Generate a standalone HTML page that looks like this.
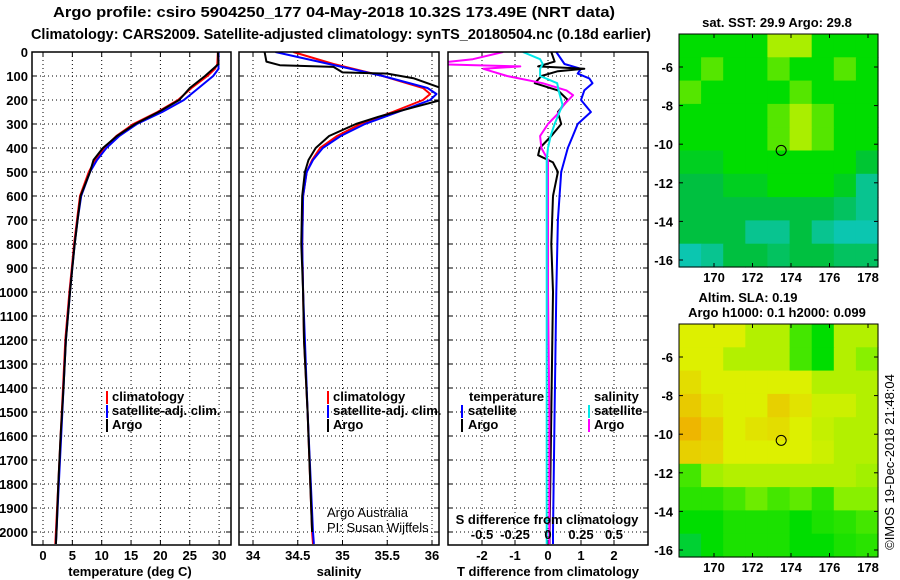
<!DOCTYPE html>
<html><head><meta charset="utf-8"><style>
html,body{margin:0;padding:0;background:#fff;}
svg{display:block;font-family:"Liberation Sans",Arial,sans-serif;font-weight:bold;}
</style></head><body>
<svg id="c" width="900" height="580" viewBox="0 0 900 580" xmlns="http://www.w3.org/2000/svg">
<text x="334" y="17" text-anchor="middle" font-size="15" textLength="562" lengthAdjust="spacingAndGlyphs">Argo profile: csiro 5904250_177 04-May-2018 10.32S 173.49E (NRT data)</text>
<text x="341" y="39" text-anchor="middle" font-size="15" textLength="620" lengthAdjust="spacingAndGlyphs">Climatology: CARS2009. Satellite-adjusted climatology: synTS_20180504.nc (0.18d earlier)</text>
</svg>
<script>
// ---- data ----
const tDepth = [0,50,70,100,150,200,250,300,350,400,450,500,600,700,800,900,1000,1200,1400,1600,1800,2000,2050];
const tClim  = [29.8,29.7,29.3,28.0,25.3,23.0,19.5,15.4,12.5,10.4,8.9,7.8,6.3,5.8,5.3,4.9,4.5,3.8,3.4,3.0,2.6,2.2,2.1];
const tSat   = [29.9,29.9,29.9,29.0,26.5,24.0,20.3,16.0,13.0,10.8,9.2,8.0,6.5,5.9,5.4,5.0,4.6,3.9,3.5,3.1,2.7,2.3,2.2];
const tArgo  = [29.8,29.9,29.0,27.6,25.0,23.2,19.7,15.7,12.6,10.2,8.6,8.0,6.4,5.9,5.4,5.0,4.6,3.9,3.5,3.0,2.6,2.3,2.2];
const sDepth = [0,50,100,150,175,200,250,300,350,400,450,500,600,800,1000,1200,1500,2000,2050];
const sClim  = [34.45,34.9,35.45,35.9,35.98,35.9,35.56,35.2,34.94,34.75,34.66,34.6,34.56,34.55,34.56,34.57,34.61,34.66,34.67];
const sSat   = [34.25,34.85,35.45,35.95,36.05,35.98,35.62,35.25,34.98,34.78,34.67,34.6,34.56,34.55,34.56,34.58,34.61,34.67,34.68];
const aDepth = [0,40,55,62,85,90,110,150,200,230,270,300,350,400,450,500,600,800,1000,1200,1500,2000];
const sArgo  = [34.13,34.15,34.3,34.9,35.0,35.5,35.8,36.1,36.1,35.8,35.4,35.15,34.85,34.7,34.62,34.58,34.55,34.54,34.56,34.57,34.61,34.66];
const dTDepth = [0,50,70,90,110,130,160,200,250,300,350,400,500,700,1000,1500,2000,2050];
const dTSat   = [0.25,0.5,1.0,0.9,1.25,1.35,1.1,1.0,1.3,0.9,0.75,0.6,0.4,0.3,0.25,0.2,0.15,0.15];
const dADepth = [0,40,60,70,80,100,130,160,200,250,300,350,400,430,460,500,600,800,1000,1500,2000,2050];
const dTArgo  = [0.1,0.2,-0.3,1.1,0.3,-0.2,-0.4,0.3,0.6,0.3,0.4,0.1,-0.25,-0.3,0.15,0.3,0.15,0.1,0.15,0.1,0.05,0.05];
const dSDepth = [0,30,50,60,70,100,130,160,180,220,260,300,350,400,450,500,1000,1500,2000,2050];
const dSArgo  = [-0.34,-0.57,-0.9,-0.21,-0.49,-0.31,-0.04,0.14,0.19,0.12,0.07,0.0,-0.06,-0.05,0.0,0.0,0.0,0.01,0.01,0.01];
const dSSat   = [-0.19,-0.06,-0.04,-0.05,-0.06,-0.06,0.07,0.08,0.09,0.11,0.08,0.05,0.02,0.0,-0.01,-0.01,-0.01,-0.01,-0.01,-0.01];
const depthTicks = [0,100,200,300,400,500,600,700,800,900,1000,1100,1200,1300,1400,1500,1600,1700,1800,1900,2000];
const tTicks = [0,5,10,15,20,25,30];
const sTicks = [34,34.5,35,35.5,36];
const dTTicks = [-2,-1,0,1,2];
const dSTicks = [-0.5,-0.25,0,0.25,0.5];
const lonTicks = [170,172,174,176,178];
const latTicks = [-6,-8,-10,-12,-14,-16];
const sstGrid = [
[2,2,2,2,3,3,2,2,2],[2,2.5,2,2,2.5,2,2,2.5,2],[2.5,2,2,2,2,2.5,2,2,2],[2,2,2,2,2.5,3,2.5,2,2],
[2,2,2,2,2.5,3,2.5,2,2],[1.5,1.5,2,2,2,2,2,2,1.2],[1,1,1.5,1.5,2,2,2,1.5,0.5],
[1,1,1,1,1,1,1,0.8,0.5],[1,1,1,0.5,0.5,1,0.5,0.3,0.3],[0.3,0.5,1,1,0.8,1,1,0.8,0.8]];
const slaGrid = [
[3,3,3,2.5,2.5,1.5,1,2.5,2.5],[3,3,2.5,2.5,2.5,1.5,1,2.5,2],[3.3,3,3,3,3,3,2.5,2.5,2.5],
[3.6,3.2,3,3,3.5,3.2,2.8,2.8,2.5],[3.9,3.5,3,3.2,3.3,3,2.7,2.5,2.5],[3.5,3.4,3,3,3,3,2.8,2.5,2.5],
[1.5,2.3,2.5,2.5,2.5,2.5,2.5,2.5,2.3],[1.3,1.3,1.5,1.8,1.5,1.7,1.3,2,2],[1,1,1.2,1.2,1.2,1,1.2,1.3,1.5],[0.6,1,1.2,1.2,1.2,1,1,1.2,1.3]];
const argoPos = [173.49,-10.32];

const NS='http://www.w3.org/2000/svg';
const svg=document.getElementById('c');
function mk(tag,at,parent){const e=document.createElementNS(NS,tag);for(const k in at)e.setAttribute(k,at[k]);(parent||svg).appendChild(e);return e;}
function txt(x,y,s,size,anchor,parent){const e=mk('text',{x:x,y:y,'font-size':size,'text-anchor':anchor||'middle'},parent);e.textContent=s;return e;}

const TOP=52, BOT=545, FS=13;
const yD=d=>TOP+d*0.24;
const panels=[{l:32,r:231,name:'temperature'},{l:239,r:439,name:'salinity'},{l:448,r:648,name:'difference'}];
const xT=v=>43+v*5.87, xS=v=>253+(v-34)*89.5, xDT=v=>548+v*33, xDS=v=>548+v*132;

panels.forEach((p,i)=>{
  const g=mk('g',{});
  
  
  const xs = i==0?tTicks.map(xT):i==1?sTicks.map(xS):dTTicks.map(xDT);
  depthTicks.forEach(d=>{const y=yD(d);
    const l=mk('line',{x1:p.l,x2:p.r,y1:y,y2:y,stroke:'#000','stroke-width':1,'stroke-dasharray':'1,3'},g);
    
    mk('line',{x1:p.l,x2:p.l+5,y1:y,y2:y,stroke:'#000'},g);mk('line',{x1:p.r-5,x2:p.r,y1:y,y2:y,stroke:'#000'},g);
  });
  xs.forEach(x=>{
    const l=mk('line',{x1:x,x2:x,y1:TOP,y2:BOT,stroke:'#000','stroke-dasharray':'1,3'},g);
    
    mk('line',{x1:x,x2:x,y1:BOT-5,y2:BOT,stroke:'#000'},g);mk('line',{x1:x,x2:x,y1:TOP,y2:TOP+5,stroke:'#000'},g);
  });
  mk('defs',{},g).innerHTML='<clipPath id="cp'+i+'"><rect x="'+p.l+'" y="'+TOP+'" width="'+(p.r-p.l)+'" height="'+(BOT-TOP)+'"/></clipPath>';
  p.g=mk('g',{'clip-path':'url(#cp'+i+')'},g);
  const fr=mk('rect',{x:p.l,y:TOP,width:p.r-p.l,height:BOT-TOP,fill:'none',stroke:'#000','stroke-width':1.5},g);
  
});
depthTicks.forEach(d=>{const t=txt(28,yD(d)+5,String(d),FS,'end');});
tTicks.forEach(v=>{const t=txt(xT(v),560,String(v),FS);});
sTicks.forEach(v=>{const t=txt(xS(v),560,String(v),FS);});
dTTicks.forEach(v=>{const t=txt(xDT(v),560,String(v),FS);});
dSTicks.forEach(v=>{const t=txt(xDS(v),539,String(v),FS);});
[[130,'temperature (deg C)','temperature-axis-title'],[339,'salinity','salinity-axis-title'],[548,'T difference from climatology','t-diff-axis-title']].forEach(a=>{const t=txt(a[0],576,a[1],FS);});
{const t=txt(547,524,'S difference from climatology',FS);}

function line(par,xs,ds,fx,color,w,name){
  const pts=xs.map((v,i)=>fx(v).toFixed(1)+','+yD(ds[i]).toFixed(1)).join(' ');
  const e=mk('polyline',{points:pts,fill:'none',stroke:color,'stroke-width':w,'stroke-linejoin':'round'},par);
  
}
line(panels[0].g,tClim,tDepth,xT,'#ff0000',2,'temperature-climatology-line');
line(panels[0].g,tSat,tDepth,xT,'#0000ff',2,'temperature-satellite-line');
line(panels[0].g,tArgo,tDepth,xT,'#000000',2,'temperature-argo-line');
line(panels[1].g,sClim,sDepth,xS,'#ff0000',2,'salinity-climatology-line');
line(panels[1].g,sSat,sDepth,xS,'#0000ff',2,'salinity-satellite-line');
line(panels[1].g,sArgo,aDepth,xS,'#000000',2,'salinity-argo-line');
line(panels[2].g,dTSat,dTDepth,xDT,'#0000ff',2,'t-diff-satellite-line');
line(panels[2].g,dTArgo,dADepth,xDT,'#000000',2,'t-diff-argo-line');
line(panels[2].g,dSArgo,dSDepth,xDS,'#ff00ff',2,'s-diff-argo-line');
line(panels[2].g,dSSat,dSDepth,xDS,'#00e8e8',2,'s-diff-satellite-line');

function leg(bx,tx,y,color,label,name){
  const g=mk('g',{});
  mk('rect',{x:bx,y:y-10,width:2,height:13,fill:color},g);txt(tx,y,label,FS,'start',g);
}
leg(106,112,401,'#ff0000','climatology','legend-climatology');
leg(106,112,415,'#0000ff','satellite-adj. clim.','legend-satellite-adj');
leg(106,112,429,'#000000','Argo','legend-argo');
leg(327,333,401,'#ff0000','climatology','legend-sal-climatology');
leg(327,333,415,'#0000ff','satellite-adj. clim.','legend-sal-satellite-adj');
leg(327,333,429,'#000000','Argo','legend-sal-argo');
{const t=txt(469,401,'temperature',FS,'start');}
{const t=txt(594,401,'salinity',FS,'start');}
leg(461,468,415,'#0000ff','satellite','legend-tdiff-satellite');
leg(461,468,429,'#000000','Argo','legend-tdiff-argo');
leg(588,594,415,'#00e8e8','satellite','legend-sdiff-satellite');
leg(588,594,429,'#ff00ff','Argo','legend-sdiff-argo');
{const g=mk('g',{'font-weight':'normal'});
 txt(327,517,'Argo Australia',FS,'start',g);txt(327,532,'PI: Susan Wijffels',FS,'start',g);}

// ---- maps ----
function lerpC(stops,v){v=Math.max(0,Math.min(stops.length-1,v));const i=Math.min(stops.length-2,Math.floor(v)),f=v-i;
  const a=stops[i],b=stops[i+1];return 'rgb('+a.map((c,k)=>Math.round(c+(b[k]-c)*f)).join(',')+')';}
const sstStops=[[16,200,224],[0,192,64],[0,221,0],[170,238,0]];
const slaStops=[[0,192,128],[0,221,0],[136,240,0],[221,240,0],[240,176,0]];
function map(top,grid,stops,name){
  const L=679,R=878,T=top,B=top+233;
  const xl=v=>714+(v-170)*19.25, yl=v=>T+33+(-6-v)*19.3;
  const g=mk('g',{});
  const rows=grid.length,cols=grid[0].length,cw=(R-L)/cols,ch=(B-T)/rows;
  grid.forEach((row,r)=>row.forEach((v,c)=>{
    const e=mk('rect',{x:(L+c*cw).toFixed(1),y:(T+r*ch).toFixed(1),width:(cw+0.6).toFixed(1),height:(ch+0.6).toFixed(1),fill:lerpC(stops,v)},g);
    
  }));
  mk('rect',{x:L,y:T,width:R-L,height:B-T,fill:'none',stroke:'#000'},g);
  lonTicks.forEach(v=>{const x=xl(v);mk('line',{x1:x,x2:x,y1:B-4,y2:B,stroke:'#000'},g);mk('line',{x1:x,x2:x,y1:T,y2:T+4,stroke:'#000'},g);
    const t=txt(x,B+15,String(v),FS,'middle',g);});
  latTicks.forEach(v=>{const y=yl(v);mk('line',{x1:L,x2:L+4,y1:y,y2:y,stroke:'#000'},g);mk('line',{x1:R-4,x2:R,y1:y,y2:y,stroke:'#000'},g);
    const t=txt(673,y+5,String(v),FS,'end',g);});
  const m=mk('circle',{cx:xl(argoPos[0]),cy:yl(argoPos[1]),r:5,fill:'none',stroke:'#000','stroke-width':1},g);
  
}
map(34,sstGrid,sstStops,'sst-map');
map(324,slaGrid,slaStops,'sla-map');
{const t=txt(777,27,'sat. SST: 29.9 Argo: 29.8',FS);}
{const t=txt(748,302,'Altim. SLA: 0.19',FS);}
{const t=txt(777,317,'Argo h1000: 0.1 h2000: 0.099',FS);}
{const t=txt(0,0,'©IMOS 19-Dec-2018 21:48:04',FS);t.setAttribute('font-weight','normal');t.setAttribute('transform','translate(894,462) rotate(-90)');
 }
</script>
</body></html>
